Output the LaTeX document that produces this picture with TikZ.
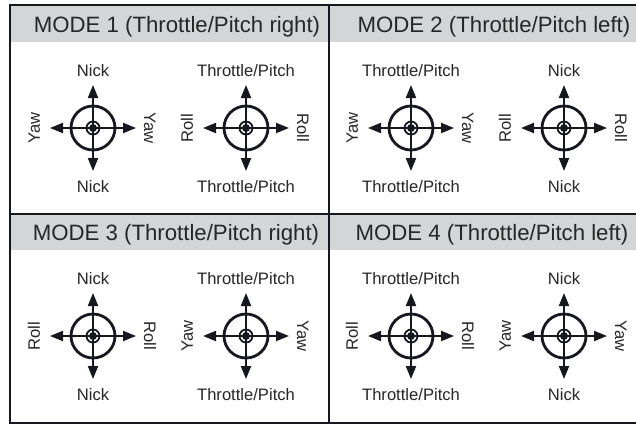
\documentclass[tikz,border=0pt]{standalone}
\usepackage{fontspec}
\setmainfont{Liberation Sans}
\usetikzlibrary{arrows.meta,calc,positioning}

\definecolor{framecol}{HTML}{17171F}
\definecolor{bandcol}{HTML}{D3D5D6}
\definecolor{textcol}{HTML}{262626}

% one stick: name, centre, up/down label, side label
\newcommand{\stick}[4]{%
  \coordinate (#1) at (#2);
  \coordinate (#1-n) at ($(#1)+(0,-43)$);
  \coordinate (#1-s) at ($(#1)+(0,43)$);
  \coordinate (#1-w) at ($(#1)+(-43,0)$);
  \coordinate (#1-e) at ($(#1)+(43,0)$);
  \draw[shaft] (#1) -- (#1-n);
  \draw[shaft] (#1) -- (#1-s);
  \draw[shaft] (#1) -- (#1-w);
  \draw[shaft] (#1) -- (#1-e);
  \draw[ring] (#1) circle (22pt);
  \draw[ring, line width=1.8pt] (#1) circle (6.5pt);
  \node[hub] (#1-dot) at (#1) {};
  \node[lab] (#1-top) at ($(#1)+(0,-57)$) {#3};
  \node[lab] (#1-bot) at ($(#1)+(0,59)$) {#3};
  \node[lab, rotate=90] (#1-lft) at ($(#1)+(-59,0)$) {#4};
  \node[lab, rotate=-90] (#1-rgt) at ($(#1)+(57,0)$) {#4};
}

\begin{document}
\begin{tikzpicture}[
    x = 1pt, y = -1pt, % pixel units, y downwards
    > = {Triangle[length=13pt, width=10pt]}, % arrow head style
    framecol
  ]

  \tikzstyle{shaft}=[->, line width=2pt]
  \tikzstyle{ring}=[line width=2.8pt]
  \tikzstyle{hub}=[circle, fill=framecol, minimum size=8pt, inner sep=0pt]
  \tikzstyle{lab}=[text=textcol, inner sep=0pt, text height=11.9pt, text depth=0pt,
    font=\fontsize{16.6}{20}\selectfont]
  \tikzstyle{head}=[text=textcol, inner sep=0pt, text height=16pt, text depth=0pt,
    font=\fontsize{22.2}{26}\selectfont]

  \useasboundingbox (0,0) rectangle (636,426);
  \clip (0,0) rectangle (636,426);

  % header bands
  \fill[bandcol] (10,5) rectangle (646,42);
  \fill[bandcol] (10,214) rectangle (646,250);

  \node[head] (hd1) at (177,24) {MODE 1 (Throttle/Pitch right)};
  \node[head] (hd2) at (494,24) {MODE 2 (Throttle/Pitch left)};
  \node[head] (hd3) at (176,232) {MODE 3 (Throttle/Pitch right)};
  \node[head] (hd4) at (492,232) {MODE 4 (Throttle/Pitch left)};

  % sticks
  \stick{m1l}{93,128}{Nick}{Yaw}
  \stick{m1r}{246,128}{Throttle/Pitch}{Roll}
  \stick{m2l}{411,128}{Throttle/Pitch}{Yaw}
  \stick{m2r}{564,128}{Nick}{Roll}
  \stick{m3l}{93,336}{Nick}{Roll}
  \stick{m3r}{246,336}{Throttle/Pitch}{Yaw}
  \stick{m4l}{411,336}{Throttle/Pitch}{Roll}
  \stick{m4r}{564,336}{Nick}{Yaw}

  % frame
  \draw[line width=2.8pt] (10,5) rectangle (646,423);
  \draw[line width=2.8pt] (10,214) -- (646,214);
  \draw[line width=2.8pt] (329,5) -- (329,423);

\end{tikzpicture}
\end{document}
